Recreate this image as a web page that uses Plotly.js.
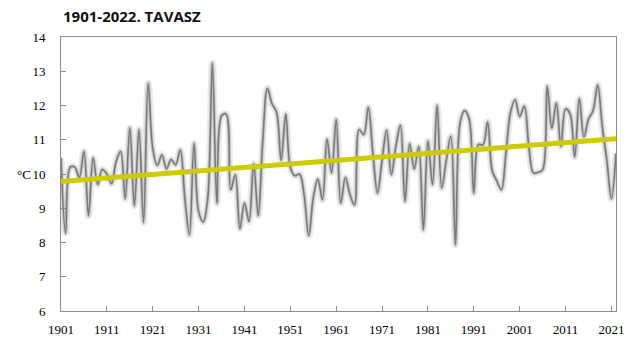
<!DOCTYPE html>
<html>
<head>
<meta charset="utf-8">
<script src="https://cdn.plot.ly/plotly-3.0.1.min.js"></script>
<style>html,body{margin:0;padding:0;background:#fff;}#chart{width:640px;height:357px;}</style>
</head>
<body>
<div id="chart"></div>
<script>
const startYear = 1901;
const temps = [
  10.47, 8.27, 10.2, 10.2, 9.9, 10.66, 8.78, 10.47, 9.69, 10.13,
  10.0, 9.72, 10.35, 10.66, 9.28, 11.35, 9.07, 11.3, 8.58, 12.65,
  10.75, 10.25, 10.56, 10.15, 10.42, 10.27, 10.7, 9.3, 8.22, 10.9,
  8.9, 8.6, 9.3, 13.25, 9.15, 11.7, 11.75, 9.54, 9.98, 8.4,
  9.15, 8.61, 10.3, 8.78, 11.0, 12.5, 12.05, 11.8, 10.4, 11.75,
  10.2, 9.95, 10.0, 9.4, 8.2, 9.3, 9.85, 9.25, 11.02, 10.03,
  11.59, 9.15, 9.9, 9.4, 9.1, 11.3, 11.15, 11.95, 10.6, 9.44,
  10.4, 11.28, 9.98, 10.8, 11.42, 9.2, 10.88, 10.15, 10.8, 8.37,
  10.96, 9.69, 12.0, 9.59, 10.4, 11.1, 7.93, 11.5, 11.85, 11.6,
  9.44, 10.86, 10.85, 11.52, 10.1, 9.8, 9.54, 10.6, 11.8, 12.17,
  11.68, 11.98, 10.8, 10.03, 10.05, 10.12, 12.56, 11.34, 12.07, 10.8,
  11.9, 11.75, 10.5, 12.2, 11.08, 11.6, 11.85, 12.6, 11.4, 10.4,
  9.28, 10.6
];
const years = temps.map((_, i) => startYear + i);
const trendYears = [1901, 2022];
const trendValues = [9.78, 11.03];
const xTickYears = [1901, 1911, 1921, 1931, 1941, 1951, 1961, 1971, 1981, 1991, 2001, 2011, 2021];
const yTicks = [6, 7, 8, 9, 10, 11, 12, 13, 14];
const titleText = '1901-2022. TAVASZ';
const unitLabel = '°C';

const traces = [
  {x: years, y: temps, type: 'scatter', mode: 'lines', hoverinfo: 'skip',
   line: {shape: 'spline', smoothing: 1, color: 'rgba(140,140,140,0.18)', width: 7}},
  {x: years, y: temps, type: 'scatter', mode: 'lines', hoverinfo: 'skip',
   line: {shape: 'spline', smoothing: 1, color: 'rgba(140,140,140,0.35)', width: 3.5}},
  {x: years, y: temps, type: 'scatter', mode: 'lines',
   line: {shape: 'spline', smoothing: 1, color: '#7a7a7a', width: 1.6}},
  {x: trendYears, y: trendValues, type: 'scatter', mode: 'lines',
   line: {color: '#cccc00', width: 5}}
];

const serif = {family: 'Liberation Serif, Times New Roman, serif', size: 13, color: '#000'};

const layout = {
  width: 640, height: 357,
  margin: {l: 61, r: 24, t: 37, b: 46},
  paper_bgcolor: '#fff', plot_bgcolor: '#fff',
  showlegend: false,
  title: {text: '<b>' + titleText + '</b>', font: {family: 'Open Sans, Liberation Sans, sans-serif', size: 15, color: '#111'},
          x: 63/640, xanchor: 'left', xref: 'container', y: 1 - 17/357, yanchor: 'middle'},
  xaxis: {range: [1901, 2022], tickvals: xTickYears, ticktext: xTickYears.map(String),
          showgrid: false, zeroline: false, showline: true, linecolor: '#8c8c8c', linewidth: 1, mirror: true,
          ticks: 'inside', ticklen: 5, tickcolor: '#8c8c8c', tickfont: serif, ticklabelstandoff: 6},
  yaxis: {range: [6, 14], tickvals: yTicks, showgrid: false, zeroline: false, showline: true,
          linecolor: '#8c8c8c', linewidth: 1, mirror: true,
          ticks: 'inside', ticklen: 5, tickcolor: '#8c8c8c', tickfont: serif, ticklabelstandoff: 12},
  annotations: [{text: unitLabel, xref: 'paper', yref: 'paper', x: -0.05, y: 0.5, xanchor: 'right', yanchor: 'middle',
                 showarrow: false, font: serif}]
};

Plotly.newPlot('chart', traces, layout, {displayModeBar: false, staticPlot: true});
</script>
</body>
</html>
